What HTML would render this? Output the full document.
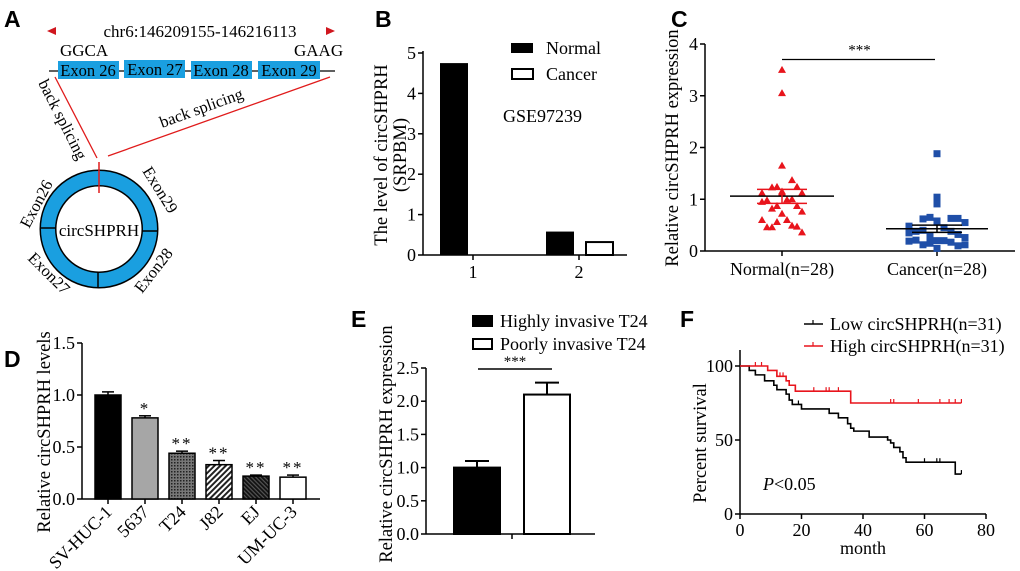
<!DOCTYPE html>
<html><head><meta charset="utf-8"><style>
html,body{margin:0;padding:0;background:#fff;}
svg{display:block;font-family:"Liberation Serif",serif;}
.lbl{font-family:"Liberation Sans",sans-serif;font-weight:bold;font-size:23px;}
.t{font-size:18px;}
.at{font-size:18.5px;}
</style></head><body>
<svg id="fig" width="1020" height="571" viewBox="0 0 1020 571" xmlns="http://www.w3.org/2000/svg">
<g>
<text class="lbl" x="4" y="27">A</text>
<polygon points="47,31 56,27 56,35" fill="#d0161e"/>
<polygon points="335,31 326,27 326,35" fill="#d0161e"/>
<text x="200" y="37" text-anchor="middle" font-size="17">chr6:146209155-146216113</text>
<text x="60" y="56" font-size="17">GGCA</text>
<text x="294" y="56" font-size="17">GAAG</text>
<line x1="49" y1="71" x2="335" y2="71" stroke="#000" stroke-width="1.2"/>
<g font-size="16.5">
<rect x="58" y="61" width="61" height="18" fill="#1a9fe0"/><text x="88" y="76" text-anchor="middle">Exon 26</text>
<rect x="124" y="60" width="61" height="18" fill="#1a9fe0"/><text x="155" y="75" text-anchor="middle">Exon 27</text>
<rect x="191" y="61" width="61" height="18" fill="#1a9fe0"/><text x="221" y="76" text-anchor="middle">Exon 28</text>
<rect x="258" y="61" width="62" height="18" fill="#1a9fe0"/><text x="289" y="76" text-anchor="middle">Exon 29</text>
</g>
<line x1="55" y1="77" x2="97" y2="158" stroke="#e01b1b" stroke-width="1.3"/>
<line x1="330" y1="77" x2="108" y2="156" stroke="#e01b1b" stroke-width="1.3"/>
<text font-size="16.5" transform="translate(38,83) rotate(63)">back splicing</text>
<text font-size="16.5" transform="translate(162,128) rotate(-20)">back splicing</text>
<circle cx="99" cy="229" r="51" fill="none" stroke="#000" stroke-width="17"/>
<circle cx="99" cy="229" r="51" fill="none" stroke="#1a9fe0" stroke-width="14"/>
<line x1="99" y1="162" x2="99" y2="193" stroke="#e01b1b" stroke-width="1.5"/>
<line x1="40" y1="228" x2="56" y2="228" stroke="#000" stroke-width="1.5"/>
<line x1="142" y1="231" x2="158" y2="231" stroke="#000" stroke-width="1.5"/>
<line x1="98" y1="272" x2="98" y2="288" stroke="#000" stroke-width="1.5"/>
<text x="99" y="236" text-anchor="middle" font-size="17">circSHPRH</text>
<text font-size="16.5" transform="translate(29,229) rotate(-62)">Exon26</text>
<text font-size="16.5" transform="translate(142,171) rotate(58)">Exon29</text>
<text font-size="16.5" transform="translate(27,259) rotate(45)">Exon27</text>
<text font-size="16.5" transform="translate(142,294) rotate(-52)">Exon28</text>
</g>
<g id="pB"></g>
<g id="pC"></g>
<g id="pD"></g>
<g id="pE"></g>
<g id="pF"></g>
</svg>
<script>
const bCategories = ['1','2'];
const bNormal = [4.75, 0.58];
const bCancer = [0, 0.32];
const bTicks = [0,1,2,3,4,5];

const cNormal = [3.5,3.05,1.65,1.37,1.23,1.24,1.24,1.12,1.12,1.12,0.99,0.98,1.0,0.82,0.87,0.87,0.76,0.72,0.6,0.6,0.46,0.49,0.46,0.47,0.56,0.36,1.15,0.95];
const cCancer = [1.88,1.04,0.91,0.63,0.62,0.63,0.65,0.55,0.58,0.48,0.45,0.38,0.38,0.40,0.32,0.28,0.26,0.20,0.19,0.20,0.21,0.17,0.12,0.10,0.15,0.12,0.05,0.35];
const cStats = {normalMean:1.06, normalLo:0.92, normalHi:1.19, cancerMean:0.43, cancerLo:0.36, cancerHi:0.50};
const cTicks = [0,1,2,3,4];

const dCategories = ['SV-HUC-1','5637','T24','J82','EJ','UM-UC-3'];
const dValues = [1.0,0.78,0.44,0.33,0.22,0.21];
const dErrors = [0.03,0.02,0.02,0.04,0.01,0.02];
const dStars = ['','*','**','**','**','**'];
const dTicks = [0,0.5,1.0,1.5];

const eCategories = ['Highly invasive T24','Poorly invasive T24'];
const eValues = [1.0, 2.1];
const eErrors = [0.1, 0.18];
const eTicks = [0,0.5,1.0,1.5,2.0,2.5];

const fLowTimes = [0,3,5,8,11,12,15,16,17,20,29,32,35,36,37,42,48,49,50,52,53,54,70,72];
const fLowSurv  = [100,97,94,90,87,84,81,77,74,71,68,65,61,58,56,52,50,48,45,42,38,35,27,27];
const fLowCensor = [19,48,60,64,65,72];
const fHighTimes = [0,9,12,15,16,18,36,72];
const fHighSurv  = [100,97,93,90,87,83,75,75];
const fHighCensor = [5,7,12,13,14,18,24,28,29,32,49,50,58,65,68,70,72];
const fXTicks = [0,20,40,60,80];
const fYTicks = [0,50,100];

const NS='http://www.w3.org/2000/svg';
function mk(parent,tag,attrs,text){const e=document.createElementNS(NS,tag);for(const k in attrs)e.setAttribute(k,attrs[k]);if(text!==undefined)e.textContent=text;parent.appendChild(e);return e;}
function line(p,x1,y1,x2,y2,c,w){return mk(p,'line',{x1,y1,x2,y2,stroke:c||'#000','stroke-width':w||1.5});}

// Panel B
(function(){
const g=document.getElementById('pB');
const ax=423, y0=255, y5=53, xr=627;
const ys=v=>y0-(y0-y5)*v/5;
const xc=i=>473+i*106;
mk(g,'text',{class:'lbl',x:375,y:27},'B');
line(g,ax,y5-2,ax,y0); line(g,ax,y0,xr,y0);
bTicks.forEach(t=>{line(g,ax-5,ys(t),ax,ys(t));const tx=mk(g,'text',{class:'t',x:ax-7,y:ys(t)+6,'text-anchor':'end'},t);});
bCategories.forEach((c,i)=>{line(g,xc(i),y0,xc(i),y0+5);const tx=mk(g,'text',{class:'t',x:xc(i),y:y0+23,'text-anchor':'middle'},c);
 const r1=mk(g,'rect',{x:xc(i)-33,y:ys(bNormal[i]),width:28,height:y0-ys(bNormal[i]),fill:'#000'});
 
 if(bCancer[i]>0){const r2=mk(g,'rect',{x:xc(i)+7,y:ys(bCancer[i]),width:27,height:y0-ys(bCancer[i]),fill:'#fff',stroke:'#000','stroke-width':2});
 }
});
mk(g,'rect',{x:511,y:43,width:22,height:10,fill:'#000'});
mk(g,'text',{class:'t',x:546,y:54},'Normal');
mk(g,'rect',{x:512,y:69,width:21,height:10,fill:'#fff',stroke:'#000','stroke-width':2});
mk(g,'text',{class:'t',x:546,y:80},'Cancer');
mk(g,'text',{class:'t',x:503,y:122},'GSE97239');
const t1=mk(g,'text',{class:'at','text-anchor':'middle',transform:'translate(387,155) rotate(-90)'},'The level of circSHPRH');

mk(g,'text',{class:'at','text-anchor':'middle',transform:'translate(406,155) rotate(-90)'},'(SRPBM)');
})();

// Panel C
(function(){
const g=document.getElementById('pC');
const ax=705, y0=251, y4=44, xr=1015;
const ys=v=>y0-(y0-y4)*v/4;
const xN=782, xK=937;
mk(g,'text',{class:'lbl',x:671,y:27},'C');
line(g,ax,y4,ax,y0); line(g,ax,y0,xr,y0);
cTicks.forEach(t=>{line(g,ax-5,ys(t),ax,ys(t));const tx=mk(g,'text',{class:'t',x:ax-7,y:ys(t)+6,'text-anchor':'end'},t);});
[[xN,'Normal(n=28)'],[xK,'Cancer(n=28)']].forEach(([x,s])=>{line(g,x,y0,x,y0+5);const tx=mk(g,'text',{class:'t',x:x,y:y0+24,'text-anchor':'middle'},s);});
const jit=i=>i<3?0:((i*5)%9-4)*5;
cNormal.forEach((v,i)=>{const x=xN+jit(i),y=ys(v);const p=mk(g,'polygon',{points:`${x},${y-4} ${x-4},${y+3} ${x+4},${y+3}`,fill:'#e8141c'});
 });
cCancer.forEach((v,i)=>{const x=xK+jit(i)*1.4,y=ys(v);const p=mk(g,'rect',{x:x-3.5,y:y-3.5,width:7,height:7,fill:'#1f4fa8'});
 });
line(g,xN-52,ys(cStats.normalMean),xN+52,ys(cStats.normalMean),'#000',1.5);
line(g,xN-25,ys(cStats.normalLo),xN+25,ys(cStats.normalLo),'#e8141c',1.5);
line(g,xN-25,ys(cStats.normalHi),xN+25,ys(cStats.normalHi),'#e8141c',1.5);
line(g,xN,ys(cStats.normalLo),xN,ys(cStats.normalHi),'#e8141c',1.5);
line(g,xK-51,ys(cStats.cancerMean),xK+51,ys(cStats.cancerMean),'#000',1.5);
line(g,xK-25,ys(cStats.cancerLo),xK+25,ys(cStats.cancerLo),'#000',1.5);
line(g,xK-25,ys(cStats.cancerHi),xK+25,ys(cStats.cancerHi),'#000',1.5);
line(g,xK,ys(cStats.cancerLo),xK,ys(cStats.cancerHi),'#000',1.5);
line(g,xN,ys(3.7),xK-2,ys(3.7),'#000',1.3);
mk(g,'text',{x:(xN+xK)/2,y:ys(3.7)-5,'text-anchor':'middle','font-size':15},'***');
const t1=mk(g,'text',{class:'at','text-anchor':'middle',transform:'translate(678,148) rotate(-90)'},'Relative circSHPRH expression');

})();

// Panel D
(function(){
const g=document.getElementById('pD');
const ax=82, y0=499, yt=343, xr=320;
const ys=v=>y0-(y0-yt)*v/1.5;
const xc=i=>108+i*37;
const defs=mk(g,'defs',{});
const p1=mk(defs,'pattern',{id:'dots',width:3,height:3,patternUnits:'userSpaceOnUse'});
mk(p1,'rect',{width:3,height:3,fill:'#777'});mk(p1,'rect',{width:1.5,height:1.5,fill:'#222'});
const p2=mk(defs,'pattern',{id:'hatchL',width:4,height:4,patternUnits:'userSpaceOnUse',patternTransform:'rotate(45)'});
mk(p2,'rect',{width:4,height:4,fill:'#fff'});mk(p2,'rect',{width:2,height:4,fill:'#222'});
const p3=mk(defs,'pattern',{id:'hatchD',width:3,height:3,patternUnits:'userSpaceOnUse',patternTransform:'rotate(-45)'});
mk(p3,'rect',{width:3,height:3,fill:'#555'});mk(p3,'rect',{width:1.8,height:3,fill:'#111'});
const fills=['#000','#a6a6a6','url(#dots)','url(#hatchL)','url(#hatchD)','#fff'];
mk(g,'text',{class:'lbl',x:4,y:367},'D');
line(g,ax,yt,ax,y0); line(g,ax,y0,xr,y0);
dTicks.forEach(t=>{line(g,ax-5,ys(t),ax,ys(t));const tx=mk(g,'text',{class:'t',x:ax-7,y:ys(t)+6,'text-anchor':'end'},t.toFixed(1));});
dCategories.forEach((c,i)=>{
 const x=xc(i),y=ys(dValues[i]);
 line(g,x,ys(dValues[i]+dErrors[i]),x,y,'#000',1.5);
 line(g,x-6,ys(dValues[i]+dErrors[i]),x+6,ys(dValues[i]+dErrors[i]),'#000',1.5);
 const r=mk(g,'rect',{x:x-13,y:y,width:26,height:y0-y,fill:fills[i],stroke:'#000','stroke-width':1.5});
 
 if(dStars[i]) mk(g,'text',{x:x,y:ys(dValues[i]+dErrors[i])-2,'text-anchor':'middle','font-size':17,'letter-spacing':'2'},dStars[i]);
 line(g,x,y0,x,y0+5);
 const tx=mk(g,'text',{class:'t','text-anchor':'end',transform:`translate(${x+5},${y0+14}) rotate(-45)`},c);
 
});
const t1=mk(g,'text',{class:'at','text-anchor':'middle',transform:'translate(50,432) rotate(-90)'},'Relative circSHPRH levels');

})();

// Panel E
(function(){
const g=document.getElementById('pE');
const ax=426, y0=534, yt=368, xr=595;
const ys=v=>y0-(y0-yt)*v/2.5;
const xs=[477,547];
mk(g,'text',{class:'lbl',x:351,y:327},'E');
line(g,ax,yt,ax,y0); line(g,ax,y0,xr,y0); line(g,512,y0,512,y0+5);
eTicks.forEach(t=>{line(g,ax-5,ys(t),ax,ys(t));const tx=mk(g,'text',{class:'t',x:ax-7,y:ys(t)+6,'text-anchor':'end'},t.toFixed(1));});
eCategories.forEach((c,i)=>{
 const x=xs[i],y=ys(eValues[i]),ye=ys(eValues[i]+eErrors[i]);
 line(g,x,ye,x,y,'#000',2);line(g,x-12,ye,x+12,ye,'#000',2);
 const r=mk(g,'rect',{x:x-23,y:y,width:46,height:y0-y,fill:i?'#fff':'#000',stroke:'#000','stroke-width':2});
 
 mk(g,'rect',{x:473,y:316+i*23,width:19,height:10,fill:i?'#fff':'#000',stroke:'#000','stroke-width':2});
 const lt=mk(g,'text',{class:'t',x:500,y:327+i*23},c);
});
line(g,478,369,552,369,'#000',1.5);
mk(g,'text',{x:515,y:366,'text-anchor':'middle','font-size':15},'***');
const t1=mk(g,'text',{class:'at','text-anchor':'middle',transform:'translate(392,444) rotate(-90)'},'Relative circSHPRH expression');

})();

// Panel F
(function(){
const g=document.getElementById('pF');
const ax=740, y0=514, y100=366, xr=986;
const ys=v=>y0-(y0-y100)*v/100;
const xs=t=>ax+(xr-ax)*t/80;
mk(g,'text',{class:'lbl',x:680,y:327},'F');
line(g,ax,350,ax,y0); line(g,ax,y0,xr,y0);
fYTicks.forEach(t=>{line(g,ax-5,ys(t),ax,ys(t));const tx=mk(g,'text',{class:'t',x:ax-7,y:ys(t)+6,'text-anchor':'end'},t);});
fXTicks.forEach(t=>{line(g,xs(t),y0,xs(t),y0+5);const tx=mk(g,'text',{class:'t',x:xs(t),y:y0+22,'text-anchor':'middle'},t);});
function km(times,surv,cens,color,name){
 let d=`M${xs(times[0])},${ys(surv[0])}`;
 for(let i=1;i<times.length;i++){d+=` H${xs(times[i])} V${ys(surv[i])}`;}
 const p=mk(g,'path',{d,fill:'none',stroke:color,'stroke-width':1.6});
 
 cens.forEach(t=>{let s=surv[0];for(let i=0;i<times.length;i++)if(times[i]<=t)s=surv[i];line(g,xs(t),ys(s)-4,xs(t),ys(s),color,1.2);});
}
km(fLowTimes,fLowSurv,fLowCensor,'#000','low-curve');
km(fHighTimes,fHighSurv,fHighCensor,'#e8141c','high-curve');
line(g,804,324,823,324,'#000',1.6);line(g,813,320,813,324,'#000',1.2);
line(g,804,346,823,346,'#e8141c',1.6);line(g,813,342,813,346,'#e8141c',1.2);
const l1=mk(g,'text',{class:'t',x:830,y:330},'Low circSHPRH(n=31)');
const l2=mk(g,'text',{class:'t',x:830,y:352},'High circSHPRH(n=31)');
const pv=mk(g,'text',{class:'t',x:763,y:490});
mk(pv,'tspan',{'font-style':'italic'},'P');mk(pv,'tspan',{},'<0.05');

const t1=mk(g,'text',{class:'at','text-anchor':'middle',transform:'translate(706,443) rotate(-90)'},'Percent survival');

const t2=mk(g,'text',{class:'t','text-anchor':'middle',x:863,y:554},'month');

})();
</script>
</body></html>
